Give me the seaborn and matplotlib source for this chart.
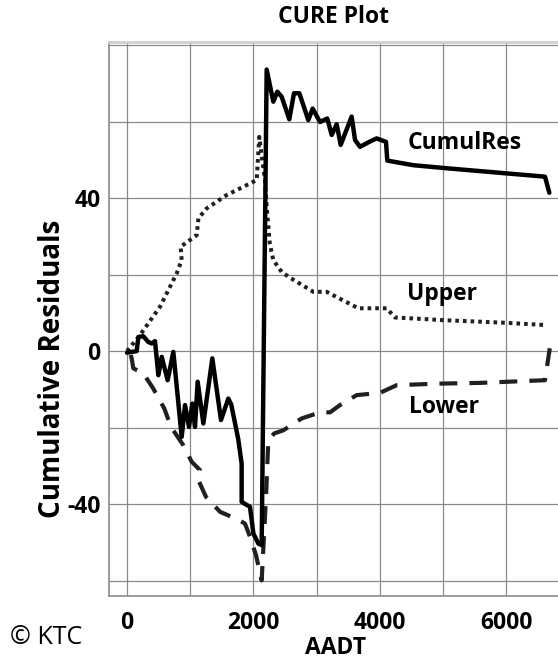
import matplotlib
matplotlib.use("Agg")
import matplotlib.pyplot as plt
import numpy as np
import pandas as pd
import seaborn as sns

# Cumulative residuals against AADT
cumul_x = [0, 153, 180, 258, 337, 390, 443, 496, 549, 643, 733, 865, 918, 981, 1033,
           1076, 1118, 1208, 1350, 1487, 1603, 1650, 1760, 1814, 1814, 1946, 2000,
           2078, 2131, 2210, 2315, 2378, 2447, 2568, 2642, 2727, 2869, 2938, 3054,
           3169, 3239, 3318, 3381, 3555, 3608, 3687, 3834, 3950, 4098, 4119, 4530,
           5058, 6614, 6683]
cumul_y = [-0.4, 0.0, 3.7, 3.9, 2.4, 2.0, 2.6, -6.3, -1.5, -7.6, -0.2, -22.4, -14.1,
           -19.8, -13.7, -19.8, -8.0, -18.9, -1.9, -18.0, -12.4, -14.0, -23.0, -29.4,
           -39.4, -40.7, -47.7, -50.3, -50.7, 73.6, 65.2, 67.8, 66.5, 60.6, 67.4, 67.4,
           60.4, 63.4, 59.9, 60.8, 56.5, 59.3, 53.9, 61.3, 55.2, 53.4, 54.7, 55.6, 54.7,
           49.8, 48.6, 47.8, 45.6, 41.4]

# Upper limit
upper_x = [0, 206, 522, 786, 865, 849, 1102, 1130, 1260, 1577, 2052, 2093, 2140, 2184,
           2210, 2260, 2315, 2447, 2579, 2948, 3160, 3660, 4109, 4241, 5005, 6008, 6641]
upper_y = [0.0, 4.2, 11.6, 20.3, 23.8, 27.3, 30.3, 34.7, 37.3, 40.8, 44.7, 56.0, 50.0,
           44.7, 37.7, 28.0, 23.8, 20.7, 19.2, 15.5, 15.5, 11.2, 11.2, 8.8, 8.1, 7.4, 6.8]

# Lower limit
lower_x = [60, 74, 100, 258, 416, 590, 696, 891, 1023, 1155, 1129, 1250, 1472, 1778,
           1867, 1946, 2041, 2131, 2200, 2236, 2330, 2473, 2763, 3054, 3212, 3370, 3634,
           4003, 4267, 4900, 5585, 6614, 6693]
lower_y = [-1.0, -1.9, -4.5, -5.8, -9.8, -15.0, -19.8, -24.6, -28.9, -31.1, -33.7,
           -38.1, -42.0, -44.2, -45.1, -48.5, -53.3, -59.9, -38.0, -23.3, -21.5, -20.7,
           -17.6, -16.0, -16.0, -14.1, -11.5, -10.9, -8.9, -8.5, -8.3, -7.6, 1.1]

series_labels = ["CumulRes", "Upper", "Lower"]
label_pos = [(5348, 54.5), (4984, 15.0), (5016, -14.5)]

x_ticks = [0, 2000, 4000, 6000]
y_ticks = [-40, 0, 40]

sns.set_theme(style="whitegrid")
plt.rcParams["font.family"] = ["Open Sans", "DejaVu Sans"]
plt.rcParams["axes.unicode_minus"] = False

fig = plt.figure(figsize=(5.58, 6.62), dpi=100)
ax = fig.add_axes([109 / 558, 66 / 662, 1 - 109 / 558, (596 - 42) / 662])

df_c = pd.DataFrame({"AADT": cumul_x, "res": cumul_y})
df_u = pd.DataFrame({"AADT": upper_x, "res": upper_y})
df_l = pd.DataFrame({"AADT": lower_x, "res": lower_y})

sns.lineplot(data=df_u, x="AADT", y="res", sort=False, estimator=None, ax=ax,
             color="#231f20", lw=2.9, linestyle=(0, (0.9, 1.0)))
sns.lineplot(data=df_l, x="AADT", y="res", sort=False, estimator=None, ax=ax,
             color="#231f20", lw=3.0, linestyle=(0, (4.3, 2.9)))
sns.lineplot(data=df_c, x="AADT", y="res", sort=False, estimator=None, ax=ax,
             color="black", lw=3.2)

ax.set_xlim(-285, 6820)
ax.set_ylim(-64, 80.8)
ax.set_xticks(x_ticks)
ax.set_yticks(y_ticks)
ax.set_xticks(np.arange(-0, 7000, 1000), minor=True)
ax.set_yticks(np.arange(-60, 81, 20), minor=True)
ax.grid(True, which="both", color="#8a8a8a", lw=0.9)
ax.tick_params(which="both", length=0)
ax.tick_params(axis="x", pad=11)
ax.tick_params(axis="y", pad=6)
for lab in ax.get_xticklabels() + ax.get_yticklabels():
    lab.set_fontsize(16.5)
    lab.set_fontweight("bold")
    lab.set_color("black")

for side in ["left", "bottom"]:
    ax.spines[side].set_color("#8a8a8a")
    ax.spines[side].set_linewidth(1.2)
ax.spines["top"].set_color("#d0d0d0")
ax.spines["top"].set_linewidth(2)
ax.spines["right"].set_visible(False)

ax.set_xlabel("AADT", fontsize=16.5, fontweight="bold", color="black")
ax.xaxis.set_label_coords(0.505, -0.0935)
ax.xaxis.label.set_va("center")
ax.set_ylabel("Cumulative Residuals", fontsize=20, fontweight="bold", color="black")
ax.yaxis.set_label_coords(-0.125, 0.41)
ax.yaxis.label.set_va("center")
ax.set_title("CURE Plot", fontsize=16.5, fontweight="bold", color="black", pad=14)

for txt, (px, py) in zip(series_labels, label_pos):
    ax.text(px, py, txt, fontsize=16.5, fontweight="bold", color="black",
            ha="center", va="center")

fig.text(10 / 558, 1 - 637 / 662, "© KTC", fontsize=18, color="black",
         ha="left", va="center")

fig.savefig("out.png", dpi=100)
